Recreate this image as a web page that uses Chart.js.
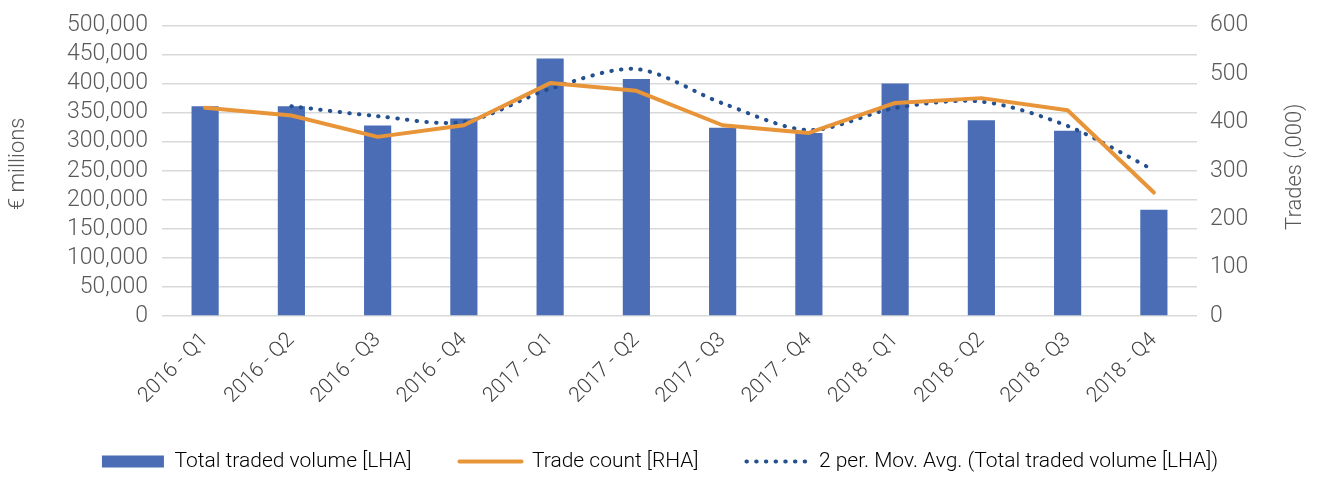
<!DOCTYPE html>
<html><head><meta charset="utf-8">
<script src="https://cdn.jsdelivr.net/npm/chart.js@4/dist/chart.umd.min.js"></script>
<style>html,body{margin:0;padding:0;background:#fff;}#wrap{width:1320px;height:479px;}</style>
</head><body><div id="wrap"><canvas id="c" width="1320" height="479"></canvas></div>
<script>
const categories = ['2016 - Q1','2016 - Q2','2016 - Q3','2016 - Q4','2017 - Q1','2017 - Q2','2017 - Q3','2017 - Q4','2018 - Q1','2018 - Q2','2018 - Q3','2018 - Q4'];
const seriesNames = ['Total traded volume [LHA]','Trade count [RHA]','2 per. Mov. Avg. (Total traded volume [LHA])'];
const volume = [361000, 361000, 328000, 340000, 443000, 408000, 324000, 315000, 400000, 337000, 319000, 183000];
const tradeCount = [430, 414, 370, 394, 481, 465, 394, 378, 440, 450, 425, 255];
const movAvg = [null, 361000, 344000, 334000, 391000, 425000, 366000, 320000, 358000, 369000, 327000, 251000];
const leftTitle = '€ millions';
const rightTitle = 'Trades (,000)';

const FONT = 'Roboto, "Liberation Sans", Arial, sans-serif';
Chart.defaults.font.family = FONT;
Chart.defaults.font.weight = 300;
Chart.defaults.color = '#595959';

const BLUE = '#4A6DB6', ORANGE = '#E8953A', NAVY = '#25508F';
const LEGEND_H = 76;

const legendPatch = {
  id:'legendPatch',
  beforeLayout(chart){
    const lg = chart.legend;
    if (lg && !lg._patched){
      const orig = lg.fit;
      lg.fit = function(){ orig.call(this); this.height = LEGEND_H; };
      lg._patched = true;
    }
  }
};

function verticalTitle(scale, x, dy){
  scale.drawTitle = function(){
    const c = this.ctx, o = this.options.title;
    c.save();
    c.fillStyle = o.color;
    c.font = Chart.helpers.toFont(o.font).string;
    c.textAlign = 'center'; c.textBaseline = 'middle';
    c.translate(x, (this.top + this.bottom)/2 + dy);
    c.rotate(-Math.PI/2);
    c.fillText(o.text, 0, 0);
    c.restore();
  };
}

new Chart(document.getElementById('c'), {
  data: {
    labels: categories,
    datasets: [
      {type:'bar', label: seriesNames[0], data: volume, backgroundColor: BLUE, yAxisID:'y', order:3,
       barPercentage:0.315, categoryPercentage:1},
      {type:'line', label: seriesNames[1], data: tradeCount, borderColor: ORANGE, backgroundColor: ORANGE,
       borderWidth:4, pointRadius:0, yAxisID:'y1', order:1, tension:0, borderJoinStyle:'round', borderCapStyle:'round'},
      {type:'line', label: seriesNames[2], data: movAvg, borderColor: NAVY, backgroundColor: NAVY,
       borderWidth:4, borderDash:[0.5, 9.2], borderCapStyle:'round', pointRadius:0, yAxisID:'y', order:2, tension:0.3}
    ]
  },
  plugins:[legendPatch],
  options: {
    responsive:false, animation:false,
    layout:{padding:{left:0,right:0,top:25,bottom:0}},
    plugins:{
      tooltip:{enabled:false},
      legend:{
        position:'bottom',
        labels:{
          usePointStyle:true, pointStyleWidth:62, boxHeight:12, padding:48,
          color:'#404040', font:{size:21, weight:300},
          generateLabels(chart){
            return chart.data.datasets.map((d,i)=>({
              text: d.label,
              fillStyle: i===0 ? BLUE : d.borderColor,
              strokeStyle: i===0 ? BLUE : d.borderColor,
              lineWidth: i===0 ? 0 : 4,
              lineDash: i===2 ? [0.5, 9.2] : [],
              lineCap: i===0 ? 'butt' : 'round',
              pointStyle: i===0 ? 'rect' : 'line',
              hidden:false, datasetIndex:i
            }));
          }
        }
      }
    },
    scales:{
      x:{
        grid:{display:false}, border:{display:false},
        ticks:{maxRotation:45, minRotation:45, autoSkip:false, padding:4, color:'#404040', font:{size:21, weight:300}},
        afterFit(s){ s.height = 479 - 316 - LEGEND_H; }
      },
      y:{
        position:'left', min:0, max:500000,
        ticks:{stepSize:50000, autoSkip:false, maxTicksLimit:20, padding:14, color:'#595959', font:{size:23, weight:300, lineHeight:1}},
        grid:{color:'#d9d9d9', lineWidth:1.5, drawTicks:false},
        border:{display:false},
        title:{display:true, text:leftTitle, color:'#595959', font:{size:22, weight:300}},
        afterFit(s){ s.width = 162; verticalTitle(s, 18, -7); }
      },
      y1:{
        position:'right', min:0, max:600,
        ticks:{stepSize:100, autoSkip:false, maxTicksLimit:20, padding:13, color:'#595959', font:{size:23, weight:300, lineHeight:1}},
        grid:{display:false, drawTicks:false},
        border:{display:false},
        title:{display:true, text:rightTitle, color:'#595959', font:{size:22, weight:300}},
        afterFit(s){ s.width = 123; verticalTitle(s, 1295, -4); }
      }
    }
  }
});
</script></body></html>
